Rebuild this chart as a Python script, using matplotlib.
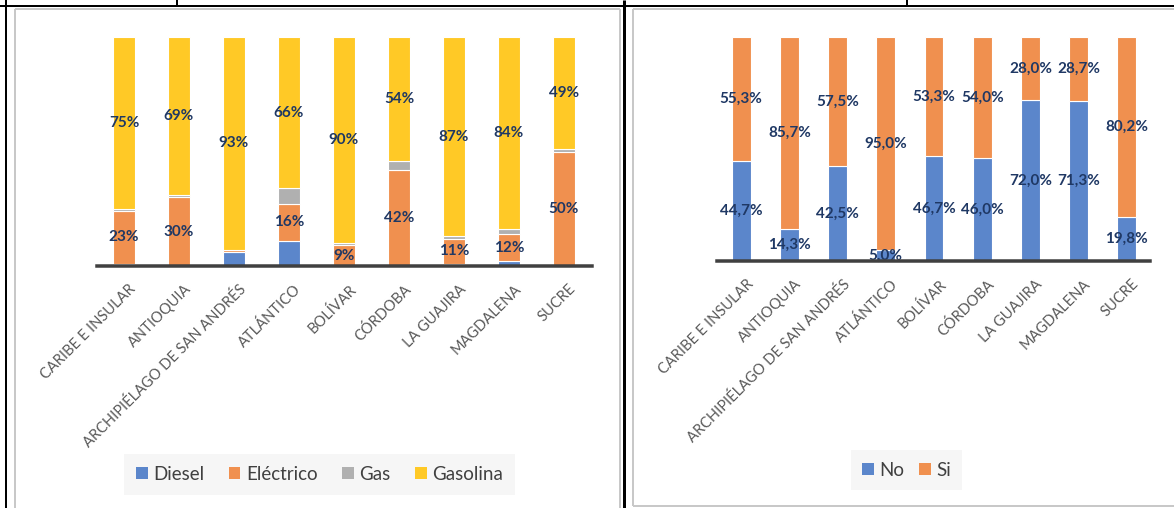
import matplotlib
matplotlib.use("Agg")
import matplotlib.pyplot as plt
from matplotlib.lines import Line2D
from matplotlib.patches import Patch
import numpy as np

plt.rcParams['font.family'] = ['Lato', 'DejaVu Sans']

# ---------------- data ----------------
categories = ["CARIBE E INSULAR", "ANTIOQUIA", "ARCHIPIÉLAGO DE SAN ANDRÉS", "ATLÁNTICO",
              "BOLÍVAR", "CÓRDOBA", "LA GUAJIRA", "MAGDALENA", "SUCRE"]

diesel    = [1, 0, 6, 11, 0, 0, 1, 2, 0]
electrico = [23, 30, 1, 16, 9, 42, 11, 12, 50]
gas       = [1, 1, 0, 7, 1, 4, 1, 2, 1]
gasolina  = [75, 69, 93, 66, 90, 54, 87, 84, 49]

no_vals = [44.7, 14.3, 42.5, 5.0, 46.7, 46.0, 72.0, 71.3, 19.8]
si_vals = [55.3, 85.7, 57.5, 95.0, 53.3, 54.0, 28.0, 28.7, 80.2]

legend_left = ["Diesel", "Eléctrico", "Gas", "Gasolina"]
legend_right = ["No", "Si"]

# ---------------- style ----------------
C_BLUE = "#5B86CB"
C_ORANGE = "#F0904F"
C_GRAY = "#B0B0B0"
C_YELLOW = "#FFC926"
LABEL_COLOR = "#1F3864"
TICK_COLOR = "#595959"

W, H = 1174, 508
fig = plt.figure(figsize=(W / 100, H / 100), dpi=100)


def fx(x):
    return x / W


def fy(y):
    return 1 - y / H


def px2pt(p):
    return p * 0.72


def hline(x0, x1, y, color, lw):
    fig.add_artist(Line2D([fx(x0), fx(x1)], [fy(y), fy(y)], color=color, lw=px2pt(lw),
                          transform=fig.transFigure, solid_capstyle='butt'))


def vline(x, y0, y1, color, lw):
    fig.add_artist(Line2D([fx(x), fx(x)], [fy(y0), fy(y1)], color=color, lw=px2pt(lw),
                          transform=fig.transFigure, solid_capstyle='butt'))


# table frame and chart borders
GRAYB = "#C8C8C8"
vline(15, 9, 510, GRAYB, 2)
vline(619.5, 9, 510, GRAYB, 2)
hline(15, 619.5, 9, GRAYB, 2)
vline(633, 9, 506, GRAYB, 2)
hline(633, 1176, 9, GRAYB, 2)
hline(633, 1176, 506, GRAYB, 2)

hline(0, W, 6, "black", 2)
vline(6, 0, 510, "black", 2)
vline(623.5, 0, 510, "black", 3)
vline(177, -2, 6, "black", 2)
vline(907, -2, 6, "black", 2)

TICK_FS = 10.5
VAL_FS = 11


def style_axes(ax, x):
    for s in ["top", "right", "left"]:
        ax.spines[s].set_visible(False)
    ax.spines["bottom"].set_color("#404040")
    ax.spines["bottom"].set_linewidth(px2pt(3.5))
    ax.spines["bottom"].set_zorder(4)
    ax.set_yticks([])
    ax.set_ylim(0, 100)
    ax.set_xticks(x)
    ax.set_xticklabels([])
    ax.tick_params(axis='x', length=0)
    ax.patch.set_alpha(0)
    for i, lab in enumerate(categories):
        ax.annotate(lab, xy=(x[i], 0), xycoords="data", xytext=(3.5, -11.5),
                    textcoords="offset points", rotation=45, rotation_mode="anchor",
                    ha="right", va="top", fontsize=TICK_FS, color=TICK_COLOR,
                    annotation_clip=False)


x = np.arange(len(categories))

# ---------------- left chart ----------------
axL = fig.add_axes([fx(97), fy(266), (592 - 97) / W, (266 - 37) / H])
wL = 0.40
d = np.array(diesel, float)
e = np.array(electrico, float)
g = np.array(gas, float)
ga = np.array(gasolina, float)
tot = d + e + g + ga
d, e, g, ga = [a / tot * 100 for a in (d, e, g, ga)]
kw = dict(width=wL, edgecolor="white", linewidth=0.8, zorder=2)
axL.bar(x, d, color=C_BLUE, **kw)
axL.bar(x, e, bottom=d, color=C_ORANGE, **kw)
axL.bar(x, g, bottom=d + e, color=C_GRAY, **kw)
axL.bar(x, ga, bottom=d + e + g, color=C_YELLOW, **kw)
for i in range(len(categories)):
    if electrico[i] >= 5:
        axL.text(x[i], d[i] + e[i] / 2, f"{electrico[i]}%", ha="center", va="center",
                 fontsize=VAL_FS, fontweight="bold", color=LABEL_COLOR, zorder=5)
    axL.text(x[i], d[i] + e[i] + g[i] + ga[i] / 2, f"{gasolina[i]}%", ha="center", va="center",
             fontsize=VAL_FS, fontweight="bold", color=LABEL_COLOR, zorder=5)
axL.set_xlim(-0.49, 8.51)
style_axes(axL, x)

# ---------------- right chart ----------------
axR = fig.add_axes([fx(717), fy(261), (1150 - 717) / W, (261 - 37) / H])
wR = 0.39
nv = np.array(no_vals)
sv = np.array(si_vals)
kw = dict(width=wR, edgecolor="white", linewidth=0.8, zorder=2)
axR.bar(x, nv, color=C_BLUE, **kw)
axR.bar(x, sv, bottom=nv, color=C_ORANGE, **kw)


def fmt(v):
    return f"{v:.1f}".replace(".", ",") + "%"


for i in range(len(categories)):
    axR.text(x[i], nv[i] / 2, fmt(no_vals[i]), ha="center", va="center",
             fontsize=VAL_FS, fontweight="bold", color=LABEL_COLOR, zorder=3)
    axR.text(x[i], nv[i] + sv[i] / 2, fmt(si_vals[i]), ha="center", va="center",
             fontsize=VAL_FS, fontweight="bold", color=LABEL_COLOR, zorder=5)
axR.set_xlim(-0.50, 8.48)
style_axes(axR, x)

# ---------------- legends ----------------
handlesL = [Patch(facecolor=c, edgecolor="none") for c in (C_BLUE, C_ORANGE, C_GRAY, C_YELLOW)]
legL = fig.legend(handlesL, legend_left, loc="center", bbox_to_anchor=(fx(319.5), fy(474.5)),
                  ncol=4, frameon=True, fontsize=13.5, handlelength=0.62, handleheight=0.62,
                  handletextpad=0.3, columnspacing=1.3, borderpad=0.65, fancybox=False,
                  labelcolor="#404040")
legL.get_frame().set_facecolor("#F4F4F4")
legL.get_frame().set_edgecolor("none")

handlesR = [Patch(facecolor=c, edgecolor="none") for c in (C_BLUE, C_ORANGE)]
legR = fig.legend(handlesR, legend_right, loc="center", bbox_to_anchor=(fx(906.5), fy(470)),
                  ncol=2, frameon=True, fontsize=13.5, handlelength=0.62, handleheight=0.62,
                  handletextpad=0.3, columnspacing=0.8, borderpad=0.6, borderaxespad=0,
                  fancybox=False, labelcolor="#404040")
legR.get_frame().set_facecolor("#F4F4F4")
legR.get_frame().set_edgecolor("none")

fig.savefig("out.png", dpi=100, facecolor="white")
